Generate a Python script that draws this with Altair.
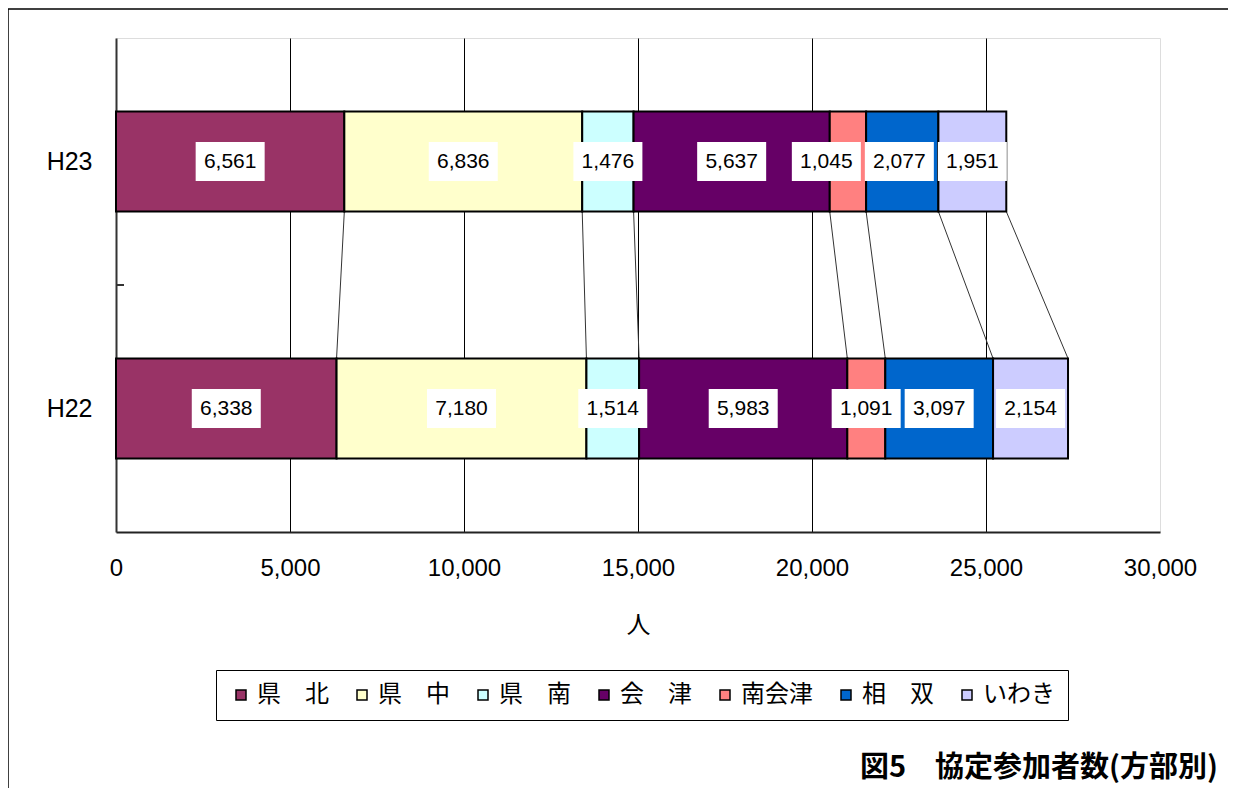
import altair as alt
import pandas as pd

# ---- data ----
years = ["H23", "H22"]
regions = ["県　北", "県　中", "県　南", "会　津", "南会津", "相　双", "いわき"]
colors = ["#993366", "#FFFFCC", "#CCFFFF", "#660066", "#FF8080", "#0066CC", "#CCCCFF"]
h23_values = [6561, 6836, 1476, 5637, 1045, 2077, 1951]
h22_values = [6338, 7180, 1514, 5983, 1091, 3097, 2154]
x_ticks = [0, 5000, 10000, 15000, 20000, 25000, 30000]
x_title = "人"
chart_title = "図5　協定参加者数(方部別)"

# ---- styling / layout constants ----
PLOT_W, PLOT_H = 1044, 494
BAR_HALF = 0.2025          # half bar thickness in category units
BOX_W, BOX_H = 69, 39      # white label box, px
BOX_GAP = 4                # min px gap between neighbouring label boxes
JP_FONT = "Noto Sans CJK JP"
NUM_FONT = "Liberation Sans"

series = [h23_values, h22_values]
px_per_unit = PLOT_W / (x_ticks[-1] - x_ticks[0])
box_units = BOX_W / px_per_unit
gap_units = BOX_GAP / px_per_unit

rows = []
cums = []
for yi, (yr, vals) in enumerate(zip(years, series)):
    cum = 0
    c = []
    mids = []
    for v in vals:
        mids.append(cum + v / 2)
        cum += v
        c.append(cum)
    # push a label box left when it would run into the next one
    for i in range(len(mids) - 2, -1, -1):
        limit = mids[i + 1] - box_units - gap_units
        if mids[i] > limit:
            mids[i] = limit
    start = 0
    for r, v, m, e in zip(regions, vals, mids, c):
        rows.append(dict(year=yr, row=yi + 0.5, region=r, value=v,
                         start=start, end=e, mid=m,
                         y0=yi + 0.5 - BAR_HALF, y1=yi + 0.5 + BAR_HALF,
                         label=f"{v:,}"))
        start = e
    cums.append(c)
df = pd.DataFrame(rows)

conn = pd.DataFrame([
    dict(xa=a, xb=b, ya=0.5 + BAR_HALF, yb=1.5 - BAR_HALF)
    for a, b in zip(cums[0], cums[1])
])

x_scale = alt.Scale(domain=[x_ticks[0], x_ticks[-1]], nice=False, zero=True)
y_scale = alt.Scale(domain=[0, len(years)], reverse=True, nice=False, zero=True)

label_expr = "[" + ",".join("'" + y + "'" for y in years) + "][floor(datum.value)]"

x_axis = alt.Axis(
    values=x_ticks, format=",d", ticks=False,
    labelFont=NUM_FONT, labelFontSize=24, labelColor="black", labelPadding=24,
    labelFlush=False, labelOverlap=False,
    domainColor="#222222", domainWidth=2,
    grid=True, gridColor="black", gridWidth=1,
    gridOpacity={"condition": {"test": f"datum.value === {x_ticks[-1]} || datum.value === 0", "value": 0}, "value": 1},
    title=x_title, titleFont=JP_FONT, titleFontSize=24, titleFontWeight="normal",
    titleColor="black", titlePadding=33,
)
y_axis = alt.Axis(
    values=[i + 0.5 for i in range(len(years))], labelExpr=label_expr,
    ticks=False, grid=False, title=None,
    labelFont=NUM_FONT, labelFontSize=25, labelColor="black", labelPadding=24,
    domainColor="#333333", domainWidth=2,
)

base = alt.Chart(df)

connectors = alt.Chart(conn).mark_rule(color="#333333", strokeWidth=1).encode(
    x=alt.X("xa:Q", scale=x_scale, axis=x_axis),
    x2="xb:Q",
    y=alt.Y("ya:Q", scale=y_scale, axis=y_axis),
    y2="yb:Q",
)

bars = base.mark_bar(stroke="black", strokeWidth=2).encode(
    x=alt.X("start:Q", scale=x_scale),
    x2="end:Q",
    y=alt.Y("y0:Q", scale=y_scale),
    y2="y1:Q",
    color=alt.Color(
        "region:N",
        scale=alt.Scale(domain=regions, range=colors),
        legend=alt.Legend(
            title=None, orient="none", legendX=100, legendY=632,
            direction="horizontal", columns=len(regions),
            symbolType="square", symbolSize=100,
            symbolStrokeColor="black", symbolStrokeWidth=1.5, symbolOpacity=1,
            labelFont=JP_FONT, labelFontSize=24, labelColor="black",
            labelOffset=4, columnPadding=21, padding=13,
            strokeColor="black", fillColor="white",
        ),
    ),
)

hy = BOX_H / BOX_W
box_path = f"M-1,-{hy:.4f}L1,-{hy:.4f}L1,{hy:.4f}L-1,{hy:.4f}Z"
boxes = base.mark_point(shape=box_path, size=BOX_W * BOX_W, filled=True,
                        fill="white", opacity=1, strokeWidth=0).encode(
    x=alt.X("mid:Q", scale=x_scale),
    y=alt.Y("row:Q", scale=y_scale),
)

labels = base.mark_text(font=NUM_FONT, fontSize=21, color="black").encode(
    x=alt.X("mid:Q", scale=x_scale),
    y=alt.Y("row:Q", scale=y_scale),
    text="label:N",
)

one = alt.Data(values=[{}])
mid_tick = alt.Chart(one).mark_rule(color="#333333", strokeWidth=2).encode(
    x=alt.value(0), x2=alt.value(8), y=alt.datum(1),
)

frame_left = alt.Chart(one).mark_rule(color="black", strokeWidth=1.5).encode(
    x=alt.value(-108), y=alt.value(-29), y2=alt.value(760),
)
frame_top = alt.Chart(one).mark_rule(color="black", strokeWidth=1.5).encode(
    x=alt.value(-108), x2=alt.value(1130), y=alt.value(-29),
)

title_mark = alt.Chart(one).mark_text(
    font=JP_FONT, fontSize=29, fontWeight="bold", color="black",
    align="right", baseline="middle",
).encode(
    x=alt.value(1102), y=alt.value(730), text=alt.value(chart_title),
)

chart = alt.layer(
    connectors, bars, boxes, labels, mid_tick, frame_left, frame_top, title_mark
).properties(
    width=PLOT_W, height=PLOT_H,
    autosize=alt.AutoSizeParams(type="none"),
    padding={"left": 108, "top": 30, "right": 68, "bottom": 256},
).configure_view(
    stroke="#808080", strokeWidth=2,
).configure(
    background="white",
)

chart.save("out.html", embed_options={"renderer": "svg", "actions": False})
